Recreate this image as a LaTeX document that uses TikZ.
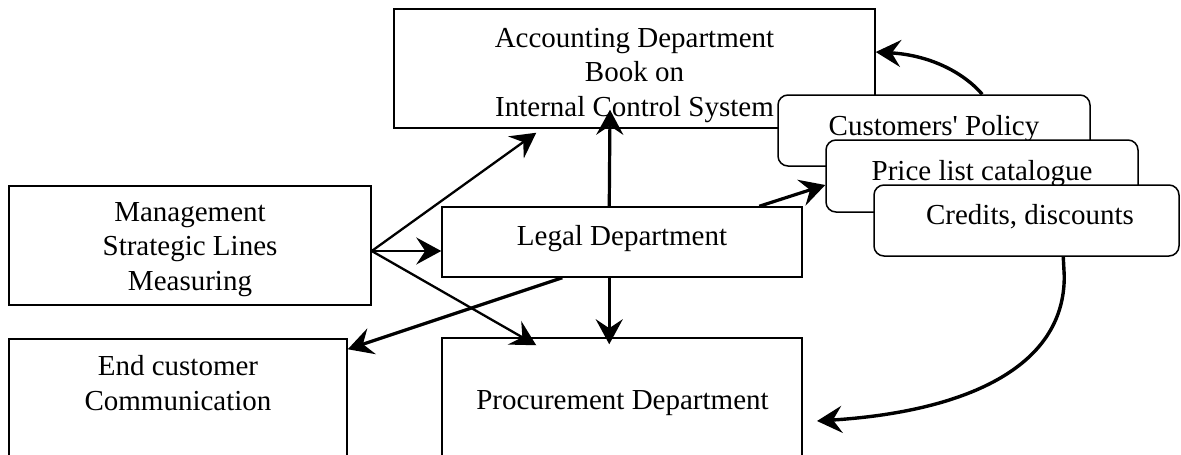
\documentclass[tikz,border=0pt]{standalone}
\usepackage{fontspec}
\setmainfont{Liberation Serif}
\usetikzlibrary{arrows.meta}
\begin{document}
\begin{tikzpicture}[x=1pt,y=-1pt,
  box/.style={draw, line width=1.5pt, fill=white, inner sep=0pt, rectangle},
  rbox/.style={box, rounded corners=10pt},
  txt/.style={inner sep=0pt, align=center, font=\fontsize{29}{34.5}\selectfont},
  headtip/.style={-{Stealth[length=25pt,width=27pt,inset=9pt]}},
  marrow/.style={headtip, line width=2.3pt},
  larrow/.style={headtip, line width=3.2pt},
  carrow/.style={headtip, line width=3.4pt}]
\useasboundingbox (0,0) rectangle (1181,455);
\clip (0,0) rectangle (1181,455);
% boxes
\node[box, minimum width=481pt, minimum height=119pt] (acc) at (634.5,68.5) {};
\node[txt, anchor=base] (acct) at (634.5,116) {Accounting Department\\Book on\\Internal Control System};
\node[box, minimum width=362pt, minimum height=119pt] (mgmt) at (190,245.5) {};
\node[txt, anchor=base] (mgmtt) at (190,290) {Management\\Strategic Lines\\Measuring};
\node[box, minimum width=338pt, minimum height=131pt] (endc) at (178,404.5) {};
\node[txt, anchor=base] (endct) at (178,410) {End customer\\Communication};
\node[box, minimum width=360pt, minimum height=70pt] (legal) at (622,242) {};
\node[txt, anchor=base] (legalt) at (622,245) {Legal Department};
\node[box, minimum width=360pt, minimum height=132pt] (proc) at (622,404) {};
\node[txt, anchor=base] (proct) at (622.5,409) {Procurement Department};
% arrows
\draw[marrow] ([yshift=-5.5pt]mgmt.east) -- ([xshift=143pt,yshift=-4pt]acc.south west);
\draw[marrow] ([yshift=-5.5pt]mgmt.east) -- ([yshift=-9pt]legal.west);
\draw[marrow] ([yshift=-5.5pt]mgmt.east) -- ([xshift=95pt,yshift=-8pt]proc.north west);
\draw[larrow] ([xshift=168pt]legal.north west) -- ([xshift=-24.5pt,yshift=19pt]acc.south);
\draw[larrow] ([xshift=168pt]legal.south west) -- ([xshift=168pt,yshift=-7pt]proc.north west);
\draw[larrow] ([xshift=121pt]legal.south west) -- ([yshift=-11pt]endc.north east);
% stacked rounded boxes
\node[rbox, minimum width=312pt, minimum height=71pt] (cust) at (934,130.5) {};
\node[txt, anchor=base] (custt) at (934,135) {Customers\textquotesingle{} Policy};
\node[rbox, minimum width=312pt, minimum height=72pt] (price) at (982,176) {};
\node[txt, anchor=base] (pricet) at (982,180) {Price list catalogue};
\node[rbox, minimum width=305pt, minimum height=71pt] (cred) at (1026.5,220.5) {};
\node[txt, anchor=base] (credt) at (1030,224) {Credits, discounts};
\draw[larrow] ([xshift=318pt]legal.north west) -- ([yshift=-9pt]price.west);
% curved arrows
\draw[carrow] ([xshift=205pt]cust.north west) .. controls (962,71) and (928,55) .. ([yshift=16.5pt]acc.east);
\draw[carrow] ([xshift=190pt]cred.south west) -- ++(1,19) .. controls (1065,370) and (960,412) .. (817,421);
\end{tikzpicture}
\end{document}
